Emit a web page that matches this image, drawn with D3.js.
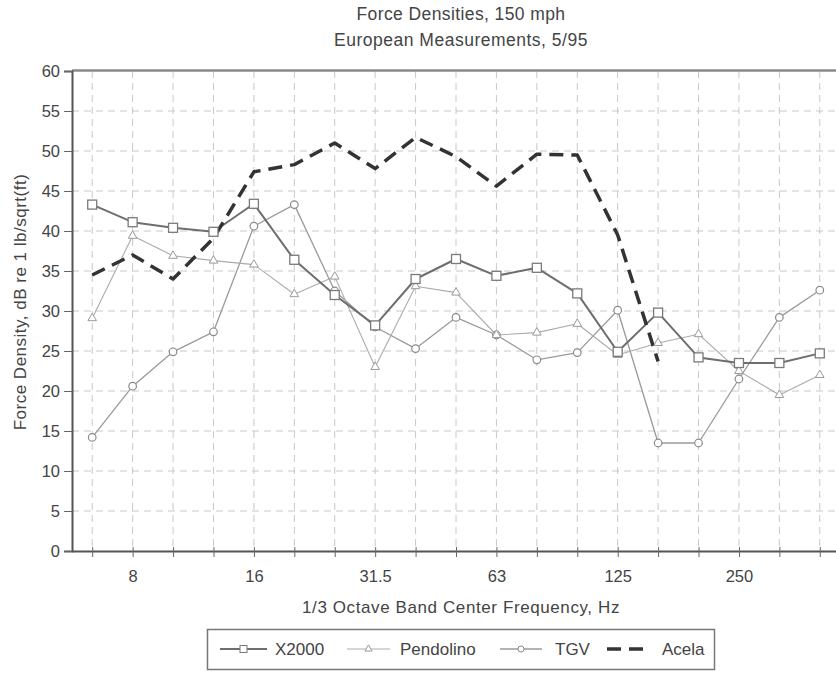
<!DOCTYPE html>
<html><head><meta charset="utf-8">
<script src="https://cdn.jsdelivr.net/npm/d3@7/dist/d3.min.js"></script>
<style>
html,body{margin:0;padding:0;background:#fff;}
svg{display:block;font-family:"Liberation Sans",Arial,sans-serif;}
</style></head>
<body><svg id="c" width="836" height="673"></svg>
<script>
const categories = ["6.3","8","10","12.5","16","20","25","31.5","40","50","63","80","100","125","160","200","250","315","400"];
const tickLabels = ["8","16","31.5","63","125","250"];
const yTicks = [0,5,10,15,20,25,30,35,40,45,50,55,60];
const x2000 = [43.3,41.1,40.4,39.9,43.4,36.4,32.0,28.2,34.0,36.5,34.4,35.4,32.2,24.9,29.8,24.2,23.5,23.5,24.7];
const pendolino = [29.1,39.4,36.9,36.3,35.8,32.1,34.3,23.0,33.1,32.3,27.0,27.3,28.4,24.5,26.0,27.1,22.5,19.5,22.0];
const tgv = [14.2,20.6,24.9,27.4,40.6,43.3,32.5,28.0,25.3,29.2,27.0,23.9,24.8,30.1,13.5,13.5,21.5,29.2,32.6];
const acela = [34.5,37.0,34.0,39.1,47.4,48.3,51.0,47.8,51.7,49.3,45.6,49.6,49.5,39.5,23.7];

const svg = d3.select("#c");
const x = d3.scalePoint().domain(categories).range([72, 840]).padding(0.5);
const y = d3.scaleLinear().domain([0, 60]).range([551, 71]);
const CX = 461;
const TXT = "#444";

// grid
const grid = svg.append("g");
grid.selectAll("line.h").data(yTicks.filter(d => d > 0 && d < 60)).join("line")
  .attr("x1", 72).attr("x2", 840).attr("y1", d => y(d)).attr("y2", d => y(d))
  .attr("stroke", "#c8c8c8").attr("stroke-width", 1).attr("stroke-dasharray", "7,5");
grid.selectAll("line.v").data(categories).join("line")
  .attr("x1", d => x(d)).attr("x2", d => x(d)).attr("y1", 71).attr("y2", 551)
  .attr("stroke", "#c8c8c8").attr("stroke-width", 1).attr("stroke-dasharray", "7,5");

// top border
svg.append("line").attr("x1", 72).attr("x2", 840).attr("y1", 70.5).attr("y2", 70.5)
  .attr("stroke", "#8a8a8a").attr("stroke-width", 2.5);

// axes
const yAxis = svg.append("g").attr("transform", "translate(72,0)")
  .call(d3.axisLeft(y).tickValues(yTicks).tickSize(8).tickPadding(4));
yAxis.select(".domain").attr("stroke", "#555").attr("stroke-width", 2);
yAxis.selectAll(".tick line").attr("stroke", "#666").attr("stroke-width", 1);
yAxis.selectAll("text").attr("font-size", 16.5).attr("fill", TXT);

const xAxis = svg.append("g").attr("transform", "translate(0,551)")
  .call(d3.axisBottom(x).tickSizeInner(6).tickSizeOuter(0).tickPadding(13)
    .tickFormat(d => tickLabels.includes(d) ? d : ""));
xAxis.select(".domain").attr("stroke", "#555").attr("stroke-width", 2);
xAxis.selectAll(".tick line").attr("y1", -4).attr("stroke", "#666").attr("stroke-width", 1);
xAxis.selectAll("text").attr("font-size", 16.5).attr("fill", TXT);

// series
function drawLine(vals, color, width, dash) {
  const pts = vals.map((v, i) => [categories[i], v]);
  svg.append("path").datum(pts)
    .attr("d", d3.line().x(d => x(d[0])).y(d => y(d[1])))
    .attr("fill", "none").attr("stroke", color).attr("stroke-width", width)
    .attr("stroke-dasharray", dash || null).attr("stroke-linejoin", "round");
  return pts;
}
const tgvPts = drawLine(tgv, "#9a9a9a", 1.3);
const penPts = drawLine(pendolino, "#ababab", 1.1);
const xPts = drawLine(x2000, "#6e6e6e", 2);
drawLine(acela, "#333", 3.5, "14,8");

svg.append("g").selectAll("circle").data(tgvPts).join("circle")
  .attr("cx", d => x(d[0])).attr("cy", d => y(d[1])).attr("r", 3.8)
  .attr("fill", "#fff").attr("stroke", "#8a8a8a").attr("stroke-width", 1.2);
const tri = d3.symbol().type(d3.symbolTriangle).size(32);
svg.append("g").selectAll("path").data(penPts).join("path")
  .attr("transform", d => `translate(${x(d[0])},${y(d[1])})`).attr("d", tri())
  .attr("fill", "#fff").attr("stroke", "#9a9a9a").attr("stroke-width", 1);
svg.append("g").selectAll("rect").data(xPts).join("rect")
  .attr("x", d => x(d[0]) - 4.5).attr("y", d => y(d[1]) - 4.5).attr("width", 9).attr("height", 9)
  .attr("fill", "#fff").attr("stroke", "#7a7a7a").attr("stroke-width", 1.3);

// titles
svg.append("text").attr("x", CX).attr("y", 20).attr("text-anchor", "middle")
  .attr("font-size", 17.5).attr("letter-spacing", 0.4).attr("fill", TXT).text("Force Densities, 150 mph");
svg.append("text").attr("x", CX).attr("y", 46).attr("text-anchor", "middle")
  .attr("font-size", 17.5).attr("letter-spacing", 0.5).attr("fill", TXT).text("European Measurements, 5/95");
svg.append("text").attr("x", CX).attr("y", 613).attr("text-anchor", "middle")
  .attr("font-size", 17).attr("letter-spacing", 0.6).attr("fill", TXT).text("1/3 Octave Band Center Frequency, Hz");
svg.append("text").attr("transform", "translate(26,302) rotate(-90)").attr("text-anchor", "middle")
  .attr("font-size", 17).attr("letter-spacing", 0.5).attr("fill", TXT).text("Force Density, dB re 1 lb/sqrt(ft)");

// legend
const lg = svg.append("g");
lg.append("rect").attr("x", 207.5).attr("y", 629.5).attr("width", 507).attr("height", 40)
  .attr("fill", "#fff").attr("stroke", "#777").attr("stroke-width", 1.5);
const legendItems = [
  {name: "X2000", x1: 220, x2: 267, tx: 275, color: "#6e6e6e", w: 2, mark: "square"},
  {name: "Pendolino", x1: 347, x2: 390, tx: 400, color: "#ababab", w: 1.1, mark: "tri"},
  {name: "TGV", x1: 500, x2: 542, tx: 555, color: "#9a9a9a", w: 1.3, mark: "circle"},
  {name: "Acela", x1: 607, x2: 648, tx: 662, color: "#333", w: 3.5, mark: null, dash: "14,8"}
];
const ly = 649;
legendItems.forEach(it => {
  lg.append("line").attr("x1", it.x1).attr("x2", it.x2).attr("y1", ly).attr("y2", ly)
    .attr("stroke", it.color).attr("stroke-width", it.w).attr("stroke-dasharray", it.dash || null);
  const mx = (it.x1 + it.x2) / 2;
  if (it.mark === "square") lg.append("rect").attr("x", mx - 3.5).attr("y", ly - 3.5).attr("width", 7).attr("height", 7)
    .attr("fill", "#fff").attr("stroke", "#7a7a7a");
  if (it.mark === "tri") lg.append("path").attr("transform", `translate(${mx},${ly})`).attr("d", d3.symbol().type(d3.symbolTriangle).size(22)())
    .attr("fill", "#fff").attr("stroke", "#9a9a9a");
  if (it.mark === "circle") lg.append("circle").attr("cx", mx).attr("cy", ly).attr("r", 3)
    .attr("fill", "#fff").attr("stroke", "#8a8a8a");
  lg.append("text").attr("x", it.tx).attr("y", ly + 6).attr("font-size", 17).attr("fill", TXT).text(it.name);
});
</script></body></html>
